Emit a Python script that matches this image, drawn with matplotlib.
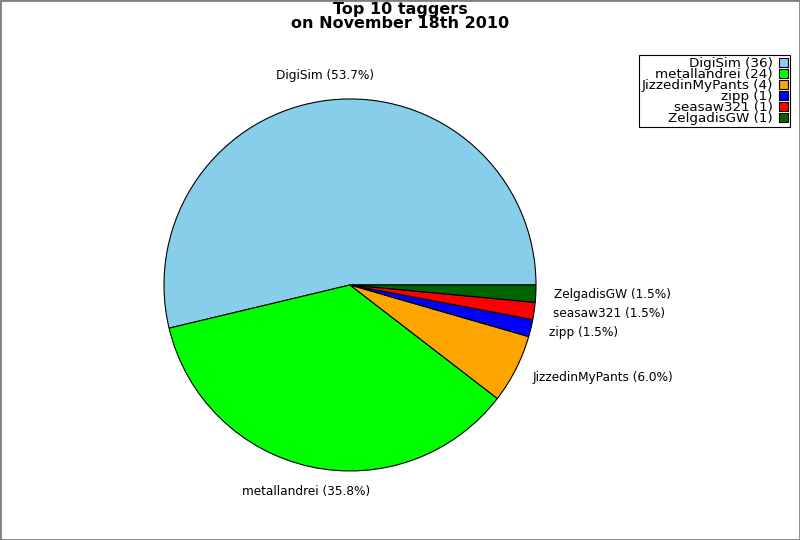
import matplotlib
matplotlib.use('Agg')
import matplotlib.pyplot as plt

# taggers and their tag counts
names = ['DigiSim', 'metallandrei', 'JizzedinMyPants', 'zipp', 'seasaw321', 'ZelgadisGW']
counts = [36, 24, 4, 1, 1, 1]
colors = ['#87ceeb', '#00ff00', '#ffa500', '#0000ff', '#ff0000', '#006400']

total = float(sum(counts))
pie_labels = ['%s (%.1f%%)' % (n, 100.0 * c / total) for n, c in zip(names, counts)]
legend_labels = ['%s (%d)' % (n, c) for n, c in zip(names, counts)]

fig = plt.figure(figsize=(8, 5.4), dpi=100)
ax = fig.add_axes([0.205, 0.1278, 0.465, 0.689])

wedges, texts = ax.pie(counts, labels=pie_labels, colors=colors, startangle=0,
                       labeldistance=1.1,
                       wedgeprops={'edgecolor': 'black', 'linewidth': 0.8},
                       textprops={'fontsize': 8.7})
# the two big slices have their labels centred and a bit further out
for t in texts[:2]:
    t.set_ha('center')
    x, y = t.get_position()
    t.set_position((x * 1.03, y * 1.03))
ax.set_xlim(-1, 1)
ax.set_ylim(-1, 1)
ax.set_aspect('equal')

fig.suptitle('Top 10 taggers\non November 18th 2010', fontsize=11.5,
             fontweight='bold', x=0.5, y=0.997, va='top', linespacing=0.95)

leg = fig.legend(wedges, legend_labels, loc='upper right',
                 bbox_to_anchor=(0.9875, 0.898), borderaxespad=0,
                 markerfirst=False, fontsize=9.7, labelspacing=-0.155,
                 handlelength=0.65, handleheight=0.65, handletextpad=0.45,
                 borderpad=0.17, fancybox=False, edgecolor='black',
                 framealpha=1)
for t in leg.get_texts():
    t.set_ha('right')
leg.get_frame().set_linewidth(0.8)

# grey border around the whole picture
fig.patches.append(plt.Rectangle((0, 0), 1, 1, transform=fig.transFigure,
                                 fill=False, edgecolor='#808080', linewidth=2))

fig.savefig('out.png', dpi=100)
